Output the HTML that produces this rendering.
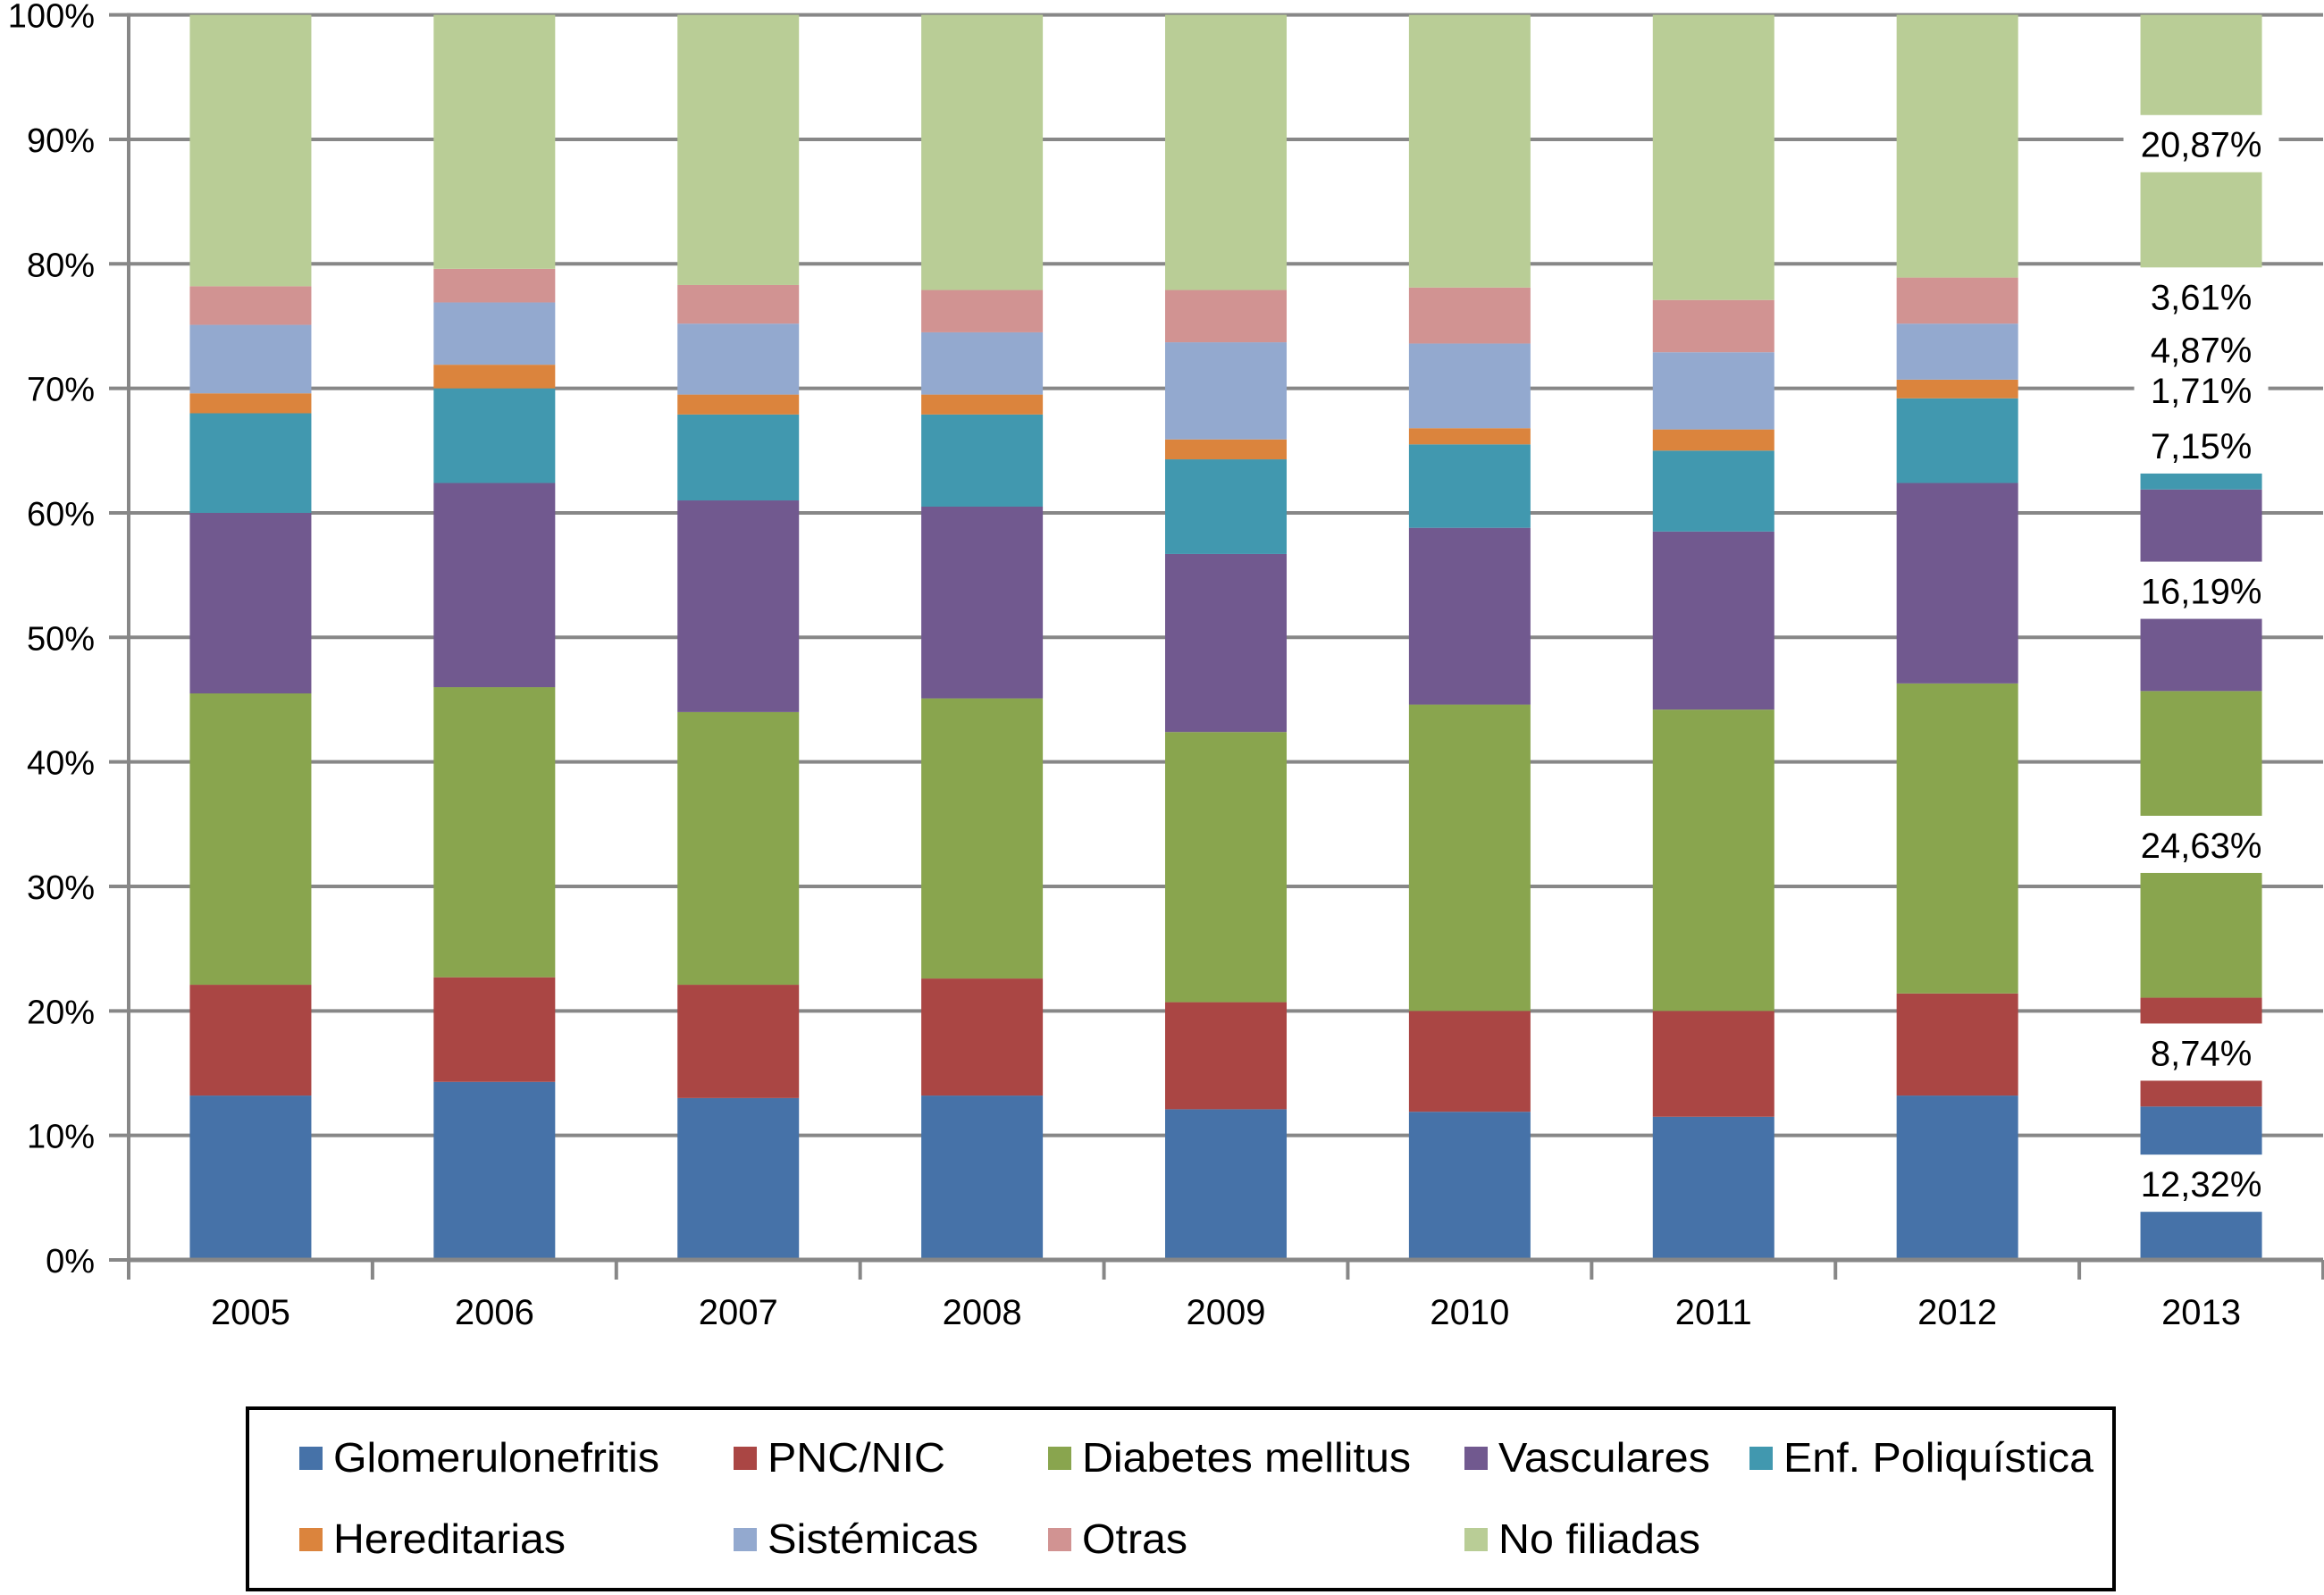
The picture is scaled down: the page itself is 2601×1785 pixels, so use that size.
<!DOCTYPE html>
<html><head><meta charset="utf-8"><style>
html,body{margin:0;padding:0;background:#fff;}
svg{display:block;font-family:"Liberation Sans",Arial,sans-serif;}
</style></head><body>
<svg id="chart" width="2601" height="1785" viewBox="0 0 2601 1785" xmlns="http://www.w3.org/2000/svg">
<g id="grid"></g>
<g id="bars"></g>
<g id="axes"></g>
<g id="labels"></g>
<g id="legend"></g>
</svg>
<script>
const categories = ["2005","2006","2007","2008","2009","2010","2011","2012","2013"];
const seriesNames = ["Glomerulonefritis","PNC/NIC","Diabetes mellitus","Vasculares","Enf. Poliquística","Hereditarias","Sistémicas","Otras","No filiadas"];
const glomerulonefritis = [13.2,14.3,13.0,13.2,12.1,11.9,11.5,13.2,12.32];
const pncNic = [8.9,8.4,9.1,9.4,8.6,8.1,8.5,8.2,8.74];
const diabetes = [23.4,23.3,21.9,22.5,21.7,24.6,24.2,24.9,24.63];
const vasculares = [14.5,16.4,17.0,15.4,14.3,14.2,14.3,16.1,16.19];
const poliquistica = [8.0,7.6,6.9,7.4,7.6,6.7,6.5,6.8,7.15];
const hereditarias = [1.6,1.9,1.6,1.6,1.6,1.3,1.7,1.5,1.71];
const sistemicas = [5.5,5.0,5.7,5.0,7.8,6.8,6.2,4.5,4.87];
const otras = [3.1,2.7,3.1,3.4,4.2,4.5,4.2,3.7,3.61];
const noFiliadas = [21.8,20.4,21.7,22.1,22.1,21.9,22.9,21.1,20.87];
const labelStrings2013 = ["12,32%","8,74%","24,63%","16,19%","7,15%","1,71%","4,87%","3,61%","20,87%"];
const yTicks = [0,10,20,30,40,50,60,70,80,90,100];
const yTickLabels = ["0%","10%","20%","30%","40%","50%","60%","70%","80%","90%","100%"];

const series = [glomerulonefritis,pncNic,diabetes,vasculares,poliquistica,hereditarias,sistemicas,otras,noFiliadas];
const colors = ["#4672a8","#aa4644","#89a54e","#71598f","#4198af","#db843d","#93a9cf","#d19392","#b9cd96"];
const slugs = ["glomerulonefritis","pnc-nic","diabetes-mellitus","vasculares","enf-poliquistica","hereditarias","sistemicas","otras","no-filiadas"];
const NS="http://www.w3.org/2000/svg";
const X0=144, X1=2600, Y0=1410, Y100=16.6;
const band=(X1-X0)/categories.length, barW=136;
function y(v){return Y0-(Y0-Y100)*v/100;}
function xc(i){return X0+band*(i+0.5);}
function mk(tag,attrs,parent){const e=document.createElementNS(NS,tag);for(const k in attrs)e.setAttribute(k,attrs[k]);parent.appendChild(e);return e;}

const grid=document.getElementById('grid');
yTicks.forEach((t,i)=>{
  const l=mk('line',{x1:X0-22,x2:X1,y1:y(t),y2:y(t),stroke:'#878787','stroke-width':4},grid);
  
  
  const tx=mk('text',{x:106,y:y(t)+14,'text-anchor':'end','font-size':38,fill:'#000'},grid);
  tx.textContent=yTickLabels[i];
  
  
});

const bars=document.getElementById('bars');
categories.forEach((c,i)=>{
  let cum=0;
  series.forEach((s,k)=>{
    const v=s[i];
    const top=(k===series.length-1)?100:cum+v;
    const r=mk('rect',{x:xc(i)-barW/2,y:y(top),width:barW,height:y(cum)-y(top),fill:colors[k]},bars);
    
    
    cum+=v;
  });
});

const axes=document.getElementById('axes');
const ya=mk('line',{x1:X0,x2:X0,y1:Y100-2,y2:Y0+22,stroke:'#878787','stroke-width':4},axes);


const xa=mk('line',{x1:X0,x2:X1,y1:Y0,y2:Y0,stroke:'#878787','stroke-width':5},axes);


for(let i=0;i<=categories.length;i++){
  const tk=mk('line',{x1:X0+band*i,x2:X0+band*i,y1:Y0,y2:Y0+22,stroke:'#878787','stroke-width':4},axes);
  
  
}
categories.forEach((c,i)=>{
  const t=mk('text',{x:xc(i),y:1482,'text-anchor':'middle','font-size':40,fill:'#000'},axes);
  t.textContent=c;
  
  
});

const labels=document.getElementById('labels');
{
  const i=categories.length-1; let cum=0;
  const mids=[];
  series.forEach((s,k)=>{ const v=s[i]; mids.push(cum+v/2); cum+=v; });
  mids.forEach((mid,k)=>{
    const str=labelStrings2013[k];
    const w=str.length*24+30;
    const bg=mk('rect',{x:xc(i)-w/2,y:y(mid)-32,width:w,height:64,fill:'#fff'},labels);
    
    
  });
  mids.forEach((mid,k)=>{
    const t=mk('text',{x:xc(i),y:y(mid)+15,'text-anchor':'middle','font-size':40,fill:'#000'},labels);
    t.textContent=labelStrings2013[k];
    
    
  });
}

const legend=document.getElementById('legend');
const lb=mk('rect',{x:277,y:1576,width:2089,height:203,fill:'#fff',stroke:'#000','stroke-width':4},legend);


const legPos=[[335,1631,365],[821,1631,199],[1173,1631,368],[1639,1631,237],[1958,1631,347],[335,1722,260],[821,1722,236],[1173,1722,118],[1639,1722,226]];
seriesNames.forEach((n,k)=>{
  const [sx,cy,tw]=legPos[k];
  const g=mk('g',{},legend);
  
  
  mk('rect',{x:sx,y:cy-12,width:26,height:26,fill:colors[k]},g);
  const t=mk('text',{x:sx+38,y:cy+16,'font-size':46,fill:'#000',textLength:tw,lengthAdjust:'spacingAndGlyphs'},g);
  t.textContent=n;
});
</script>
</body></html>
